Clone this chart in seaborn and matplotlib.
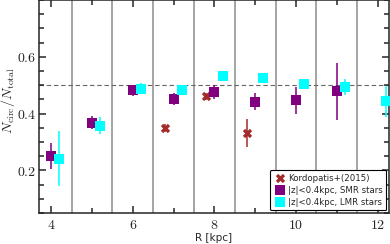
import numpy as np
import pandas as pd
import seaborn as sns
import matplotlib.pyplot as plt
from matplotlib.ticker import MultipleLocator, FuncFormatter

# Kordopatis+(2015)
r_kord = [6.8, 7.8, 8.8]
f_kord = [0.35, 0.461, 0.332]
e_kord = [0.015, 0.012, 0.05]

# |z|<0.4 kpc, SMR stars
r_smr = [4.0, 5.0, 6.0, 7.0, 8.0, 9.0, 10.0, 11.0]
f_smr = [0.25, 0.368, 0.482, 0.452, 0.476, 0.441, 0.447, 0.478]
e_smr = [0.045, 0.023, 0.02, 0.02, 0.024, 0.03, 0.047, 0.10]

# |z|<0.4 kpc, LMR stars
r_lmr = [4.2, 5.2, 6.2, 7.2, 8.2, 9.2, 10.2, 11.2, 12.2]
f_lmr = [0.241, 0.358, 0.488, 0.482, 0.531, 0.526, 0.503, 0.494, 0.443]
e_lmr = [0.097, 0.031, 0.02, 0.01, 0.0, 0.0, 0.016, 0.028, 0.055]

sns.set_style("ticks")
plt.rcParams['mathtext.fontset'] = 'cm'
plt.rcParams['font.family'] = ['DejaVu Sans']

fig = plt.figure(figsize=(3.9, 2.44), dpi=100)
ax = fig.add_axes([39 / 390, 31 / 244, 350 / 390, 213 / 244])

for xv in np.arange(4.5, 12, 1.0):
    ax.axvline(xv, color='0.55', lw=1.1, zorder=0)
ax.axhline(0.5, color='0.4', lw=0.8, ls=(0, (4, 2.5)), zorder=0)

series = [
    (r_kord, f_kord, e_kord, '#a52a2a', 'X', 45, 'Kordopatis+(2015)'),
    (r_smr, f_smr, e_smr, '#800080', 's', 45, '|z|<0.4kpc, SMR stars'),
    (r_lmr, f_lmr, e_lmr, '#00ffff', 's', 45, '|z|<0.4kpc, LMR stars'),
]
for r, f, e, col, mk, sz, lab in series:
    ax.errorbar(r, f, yerr=e, fmt='none', ecolor=col, elinewidth=1.1, capsize=0, zorder=2)
    df = pd.DataFrame({'R': r, 'f': f})
    sns.scatterplot(data=df, x='R', y='f', ax=ax, color=col, marker=mk, s=sz,
                    linewidth=0, label=lab, zorder=3)

ax.set_xlim(3.7, 12.28)
ax.set_ylim(0.05, 0.8)
ax.set_xticks([4, 6, 8, 10, 12])
ax.set_yticks([0.2, 0.4, 0.6])
ax.xaxis.set_minor_locator(MultipleLocator(1))
ax.yaxis.set_minor_locator(MultipleLocator(0.05))
fmt = FuncFormatter(lambda v, p: '$%g$' % round(v, 2))
ax.xaxis.set_major_formatter(fmt)
ax.yaxis.set_major_formatter(fmt)
ax.tick_params(which='both', direction='in', top=True, right=True, width=1.1, labelsize=10)
ax.tick_params(which='major', length=5)
ax.tick_params(which='minor', length=3.5)
ax.tick_params(axis='y', pad=2)
for s in ax.spines.values():
    s.set_linewidth(1.1)

ax.set_xlabel('R [kpc]', fontsize=7.5, labelpad=1)
ax.set_ylabel(r'$N_{\rm circ}/N_{\rm total}$', fontsize=10)
ax.yaxis.set_label_coords(-0.064, 0.53)

leg = ax.legend(loc='lower right', fontsize=6.2, frameon=True, framealpha=1,
                edgecolor='black', handletextpad=0.3, borderpad=0.45,
                labelspacing=0.35, handlelength=1.3, borderaxespad=0.3)
leg.get_frame().set_linewidth(0.8)

fig.savefig('out.png', dpi=100)
